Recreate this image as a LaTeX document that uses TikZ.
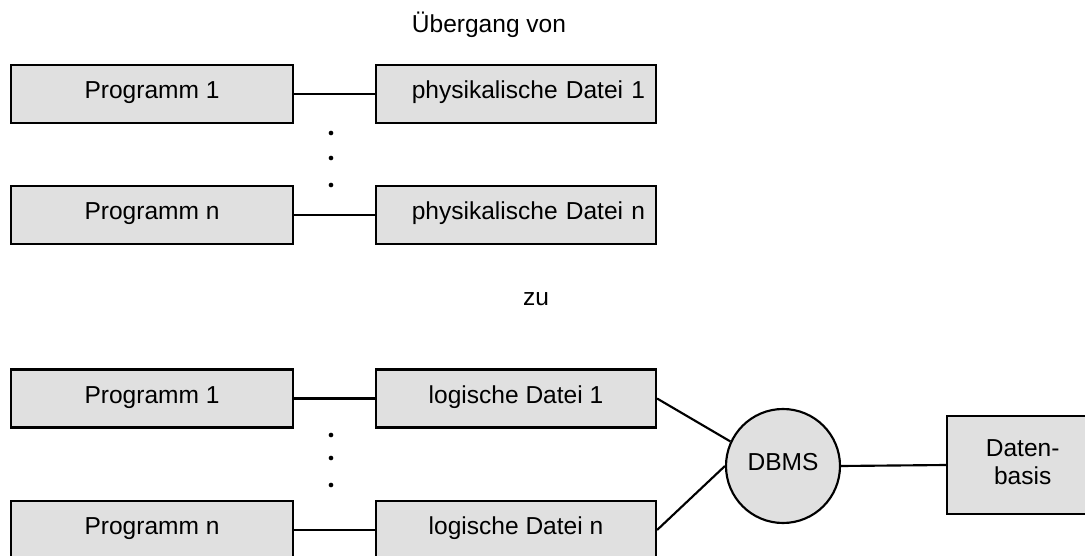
\documentclass[tikz,border=0pt]{standalone}
\usepackage{fontspec}
\setmainfont{Liberation Sans}
\usepackage{tikz}
\definecolor{boxGray}{RGB}{224,224,224}
\tikzstyle{progStyle}=[shape = rectangle, draw, fill = boxGray, line width = 1.6pt, inner sep = 0pt, minimum width = 211.5pt, minimum height = 43.5pt, text height = 0.72em, text depth = 0pt]
\tikzstyle{fileStyle}=[progStyle, minimum width = 210pt]

\begin{document}
\begin{tikzpicture}[x = 0.75pt, y = -0.75pt, font = \fontsize{18.4}{21}\selectfont]
\tikzstyle{physStyle}=[fileStyle, text width = 193.5pt, align = right]
\tikzstyle{dbmsStyle}=[shape = circle, draw, fill = boxGray, line width = 1.6pt, inner sep = 0pt, minimum size = 85.5pt, text height = 0.72em, text depth = 0pt]
\tikzstyle{basisStyle}=[shape = rectangle, draw, fill = boxGray, line width = 1.6pt, inner sep = 0pt, minimum width = 133.5pt, minimum height = 73.5pt]
\tikzstyle{dotStyle}=[shape = circle, fill, inner sep = 0pt, minimum size = 3.5pt]
\tikzstyle{EdgeStyle}=[line width = 1.6pt]
\useasboundingbox (0,0) rectangle (1085,556);
% Uebergang von ...
\node (von) at (489,25) {Übergang von};
\node[progStyle] (prgA) at (152,94) {Programm 1};
\node[progStyle] (prgB) at (152,215) {Programm n};
\node[physStyle] (physA) at (516,94) {physikalische Datei 1};
\node[physStyle] (physB) at (516,215) {physikalische Datei n};
\foreach \i/\y in {1/133, 2/158, 3/185}
  \node[dotStyle] (dotA\i) at (331,\y) {};
\draw[EdgeStyle] (prgA.east) -- (physA.west);
\draw[EdgeStyle] (prgB.east) -- (physB.west);
% ... zu
\node (zu) at (536,299) {zu};
\node[progStyle] (prgC) at (152,398.5) {Programm 1};
\node[progStyle] (prgD) at (152,530) {Programm n};
\node[fileStyle] (logA) at (516,398.5) {logische Datei 1};
\node[fileStyle] (logB) at (516,530) {logische Datei n};
\foreach \i/\y in {1/435, 2/458, 3/485}
  \node[dotStyle] (dotB\i) at (331,\y) {};
\node[dbmsStyle] (dbms) at (783,466) {DBMS};
% box runs past the right edge
\node[basisStyle] (basis) at (1036,465) {\begin{tabular}{@{}c@{}}Daten-\\basis\end{tabular}\hspace*{20pt}};
\draw[EdgeStyle] (prgC.east) -- (logA.west);
\draw[EdgeStyle] (prgD.east) -- (logB.west);
\draw[EdgeStyle] (logA.east) -- (dbms.155);
\draw[EdgeStyle] (logB.east) -- (dbms.west);
\draw[EdgeStyle] (dbms.east) -- (basis.west);
\end{tikzpicture}
\end{document}
